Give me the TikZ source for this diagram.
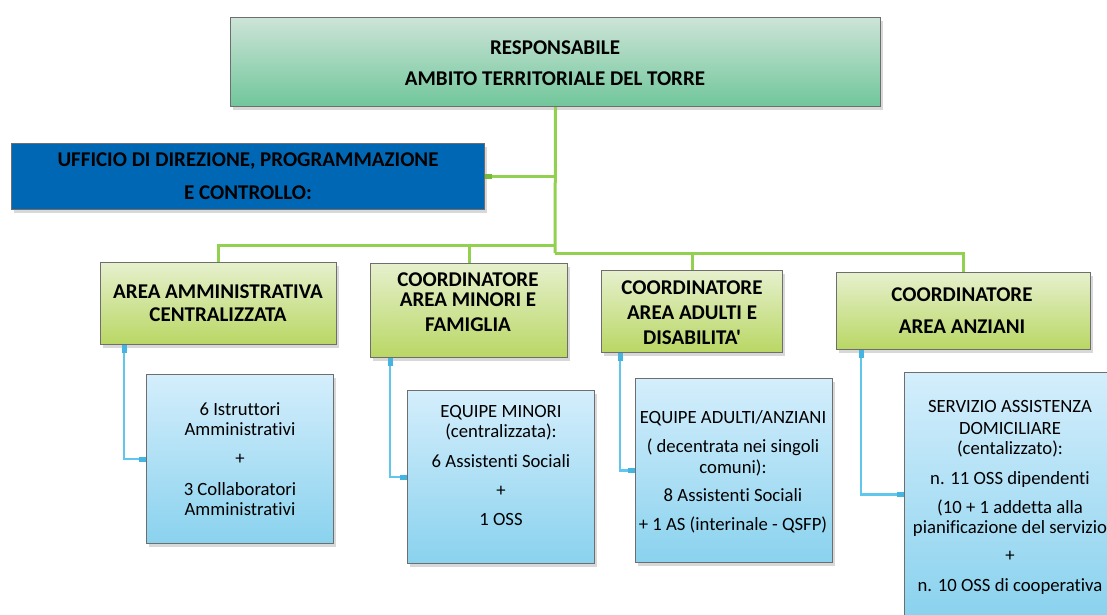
\documentclass[tikz,border=0pt]{standalone}
\usepackage{fontspec}
\setmainfont[Ligatures={NoCommon,TeXOff}]{Carlito}
\usetikzlibrary{shadows,arrows.meta}
\definecolor{gline}{RGB}{146,208,80}
\definecolor{gstub}{RGB}{120,185,60}
\definecolor{bline}{RGB}{95,198,236}
\definecolor{bstub}{RGB}{70,180,225}
\definecolor{bordgray}{RGB}{110,110,110}
\definecolor{topA}{RGB}{205,228,215}
\definecolor{topB}{RGB}{112,198,155}
\definecolor{grnA}{RGB}{230,240,205}
\definecolor{grnB}{RGB}{185,215,100}
\definecolor{bluA}{RGB}{212,238,252}
\definecolor{bluB}{RGB}{138,210,238}
\definecolor{dirblue}{RGB}{0,103,180}
\tikzset{
  x=1pt, y=-1pt,
  boxbase/.style={draw=bordgray, line width=1pt, inner sep=0pt, anchor=north west,
    drop shadow={shadow xshift=2pt, shadow yshift=-3pt, opacity=0.25, fill=black!60}},
  topbox/.style={boxbase, top color=topA, bottom color=topB},
  dirbox/.style={boxbase, fill=dirblue},
  greenbox/.style={boxbase, top color=grnA, bottom color=grnB},
  bluebox/.style={boxbase, top color=bluA, bottom color=bluB},
  headtext/.style={anchor=base, align=center, inner sep=0pt, font=\bfseries\fontsize{21}{20}\selectfont},
  bluetext/.style={anchor=base, align=center, inner sep=0pt, font=\fontsize{18.7}{20}\selectfont},
  greenline/.style={draw=gline, line width=3pt},
  blueline/.style={draw=bline, line width=2.6pt,
    {Rectangle[length=8pt,width=5pt,color=bstub]}-{Rectangle[length=7pt,width=5pt,color=bstub]}},
}
\begin{document}
\begin{tikzpicture}
\clip (0,0) rectangle (1107,614);
\fill[white] (0,0) rectangle (1107,614);

% boxes
\node[topbox, minimum width=650pt, minimum height=89pt] (top) at (230,17) {};
\node[dirbox, minimum width=473pt, minimum height=66pt] (dir) at (11,143) {};
\node[greenbox, minimum width=236pt, minimum height=82pt] (amm) at (100,262) {};
\node[greenbox, minimum width=197pt, minimum height=94pt] (min) at (370,263) {};
\node[greenbox, minimum width=181pt, minimum height=82pt] (adu) at (601,270) {};
\node[greenbox, minimum width=254pt, minimum height=77pt] (anz) at (836,272) {};
\node[bluebox, minimum width=187pt, minimum height=169pt] (b1) at (146,374) {};
\node[bluebox, minimum width=187pt, minimum height=173pt] (b2) at (407,390) {};
\node[bluebox, minimum width=197pt, minimum height=184pt] (b3) at (635,378) {};
\node[bluebox, minimum width=212pt, minimum height=244pt] (b4) at (904,372) {};

% texts (anchored at the baseline of their last line)
\node[headtext] (ttop) at (555,85) {RESPONSABILE\\[11pt]AMBITO TERRITORIALE DEL TORRE};
\node[headtext] (tdir) at (248,199) {UFFICIO DI DIREZIONE, PROGRAMMAZIONE\\[13pt]E CONTROLLO:};
\node[headtext] (tamm) at (218,321) {AREA AMMINISTRATIVA\\[3pt]CENTRALIZZATA};
\node[headtext] (tmin) at (468,331) {COORDINATORE\\AREA MINORI E\\[5pt]FAMIGLIA};
\node[headtext] (tadu) at (692,344) {COORDINATORE\\[5pt]AREA ADULTI E\\[5pt]DISABILITA'};
\node[headtext] (tanz) at (962,333) {COORDINATORE\\[12pt]AREA ANZIANI};

\node[bluetext] (t1) at (240,515) {6 Istruttori\\Amministrativi\\[9.5pt]+\\[10.5pt]3 Collaboratori\\Amministrativi};
\node[bluetext] (t2) at (501,525) {EQUIPE MINORI\\(centralizzata):\\[10pt]6 Assistenti Sociali\\[9pt]+\\[9pt]1 OSS};
\node[bluetext] (t3) at (733,530) {EQUIPE ADULTI/ANZIANI\\[9pt]( decentrata nei singoli\\[1pt]comuni):\\[8pt]8 Assistenti Sociali\\[9pt]+ 1 AS (interinale - QSFP)};
\node[bluetext] (t4) at (1010,591) {SERVIZIO ASSISTENZA\\[2pt]DOMICILIARE\\(centalizzato):\\[10pt]n. 11 OSS dipendenti\\[9pt](10 + 1 addetta alla\\pianificazione del servizio\\[8.5pt]+\\[9.5pt]n. 10 OSS di cooperativa};

% green connectors
\coordinate (j1) at (555,245);
\coordinate (j2) at (555,253);
\draw[greenline] (top.south) -- (j2);
\draw[greenline, {Rectangle[length=7pt,width=5pt,color=gstub]}-] (dir.east) -- (dir.east -| top.south);
\draw[greenline] (j1) -| (amm.north);
\draw[greenline] (j1) -| (min.north);
\draw[greenline] (j2) -| (adu.north);
\draw[greenline] (j2) -| (anz.north);

% blue connectors
\draw[blueline] ([xshift=24pt]amm.south west) |- (b1.west);
\draw[blueline] ([xshift=20pt]min.south west) |- (b2.west);
\draw[blueline] ([xshift=19pt]adu.south west) |- (b3.west);
\draw[blueline] ([xshift=25pt]anz.south west) |- (b4.west);
\end{tikzpicture}
\end{document}
